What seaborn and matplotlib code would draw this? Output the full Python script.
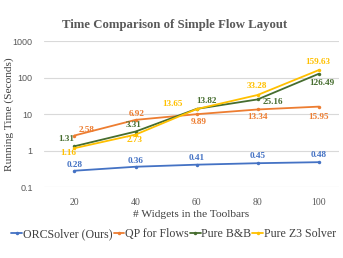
import pandas as pd
import matplotlib.pyplot as plt
import seaborn as sns

widgets = ["20", "40", "60", "80", "100"]
orc = [0.28, 0.36, 0.41, 0.45, 0.48]
qp = [2.58, 6.92, 9.89, 13.34, 15.95]
bnb = [1.31, 3.31, 13.82, 25.16, 126.49]
z3 = [1.16, 2.73, 13.65, 33.28, 159.63]
methods = ["ORCSolver (Ours)", "QP for Flows", "Pure B&B", "Pure Z3 Solver"]
colors = ["#4472C4", "#ED7D31", "#466D2F", "#FFC000"]

# label offsets in pixels (dx, dy) per series
offsets = {
    "ORCSolver (Ours)": [(0, 6), (0, 6), (0, 7), (0, 7), (0, 7)],
    "QP for Flows": [(12, 6), (1, 6), (2, -8), (0, -8), (0, -10)],
    "Pure B&B": [(-8, 7), (-2, 7), (10, 8), (15, -3), (3, -9)],
    "Pure Z3 Solver": [(-6, -5), (-1, -5), (-24, 5), (-1, 9), (-1, 8)],
}

rows = []
for m, vals in zip(methods, [orc, qp, bnb, z3]):
    for w, v in zip(widgets, vals):
        rows.append({"widgets": w, "time": v, "method": m})
df = pd.DataFrame(rows)

sns.set_style("white")
plt.rcParams["font.family"] = ["Liberation Serif", "DejaVu Serif"]

fig = plt.figure(figsize=(3.43, 2.58), dpi=100)
ax = fig.add_axes([0.128, 0.275, 0.86, 0.566])

sns.lineplot(data=df, x="widgets", y="time", hue="method", hue_order=methods,
             palette=colors, marker="o", markersize=2.5, markeredgewidth=0,
             linewidth=1.3, ax=ax)

ax.set_yscale("log")
ax.set_ylim(0.1, 1000)
ax.set_xlim(-0.5, 4.33)
ax.set_yticks([0.1, 1, 10, 100, 1000])
ax.set_yticklabels(["0.1", "1", "10", "100", "1000"])
ax.minorticks_off()
ax.grid(axis="y", color="#D9D9D9", linewidth=0.8)
ax.set_axisbelow(True)
for s in ax.spines.values():
    s.set_visible(False)
ax.tick_params(length=0, pad=8, labelsize=6.5, colors="#595959")
for lab in ax.get_yticklabels():
    lab.set_fontfamily("Liberation Sans")
for lab in ax.get_xticklabels():
    lab.set_fontfamily("Liberation Serif")
    lab.set_fontsize(7)

for m, vals, c in zip(methods, [orc, qp, bnb, z3], colors):
    for i, v in enumerate(vals):
        dx, dy = offsets[m][i]
        ax.annotate(f"{v:.2f}", xy=(i, v), xytext=(dx, dy), textcoords="offset pixels",
                    ha="center", va="center", fontsize=6.6, color=c, fontweight="bold")

fig.text(0.508, 0.903, "Time Comparison of Simple Flow Layout", fontsize=9.2,
         fontweight="bold", color="#595959", ha="center", va="center")
ax.set_xlabel("# Widgets in the Toolbars", fontsize=8.2, color="#404040", labelpad=2)
ax.set_ylabel("Running Time (Seconds)", fontsize=8.2, color="#404040")
ax.yaxis.set_label_coords(-0.102, 0.5)

leg = ax.legend(loc="upper center", bbox_to_anchor=(0.44, -0.25), ncol=4, frameon=False,
                fontsize=8.6, handlelength=0.9, handletextpad=0.05, columnspacing=0.1,
                borderaxespad=0)
for t in leg.get_texts():
    t.set_color("#404040")

fig.savefig("out.png", dpi=100)
